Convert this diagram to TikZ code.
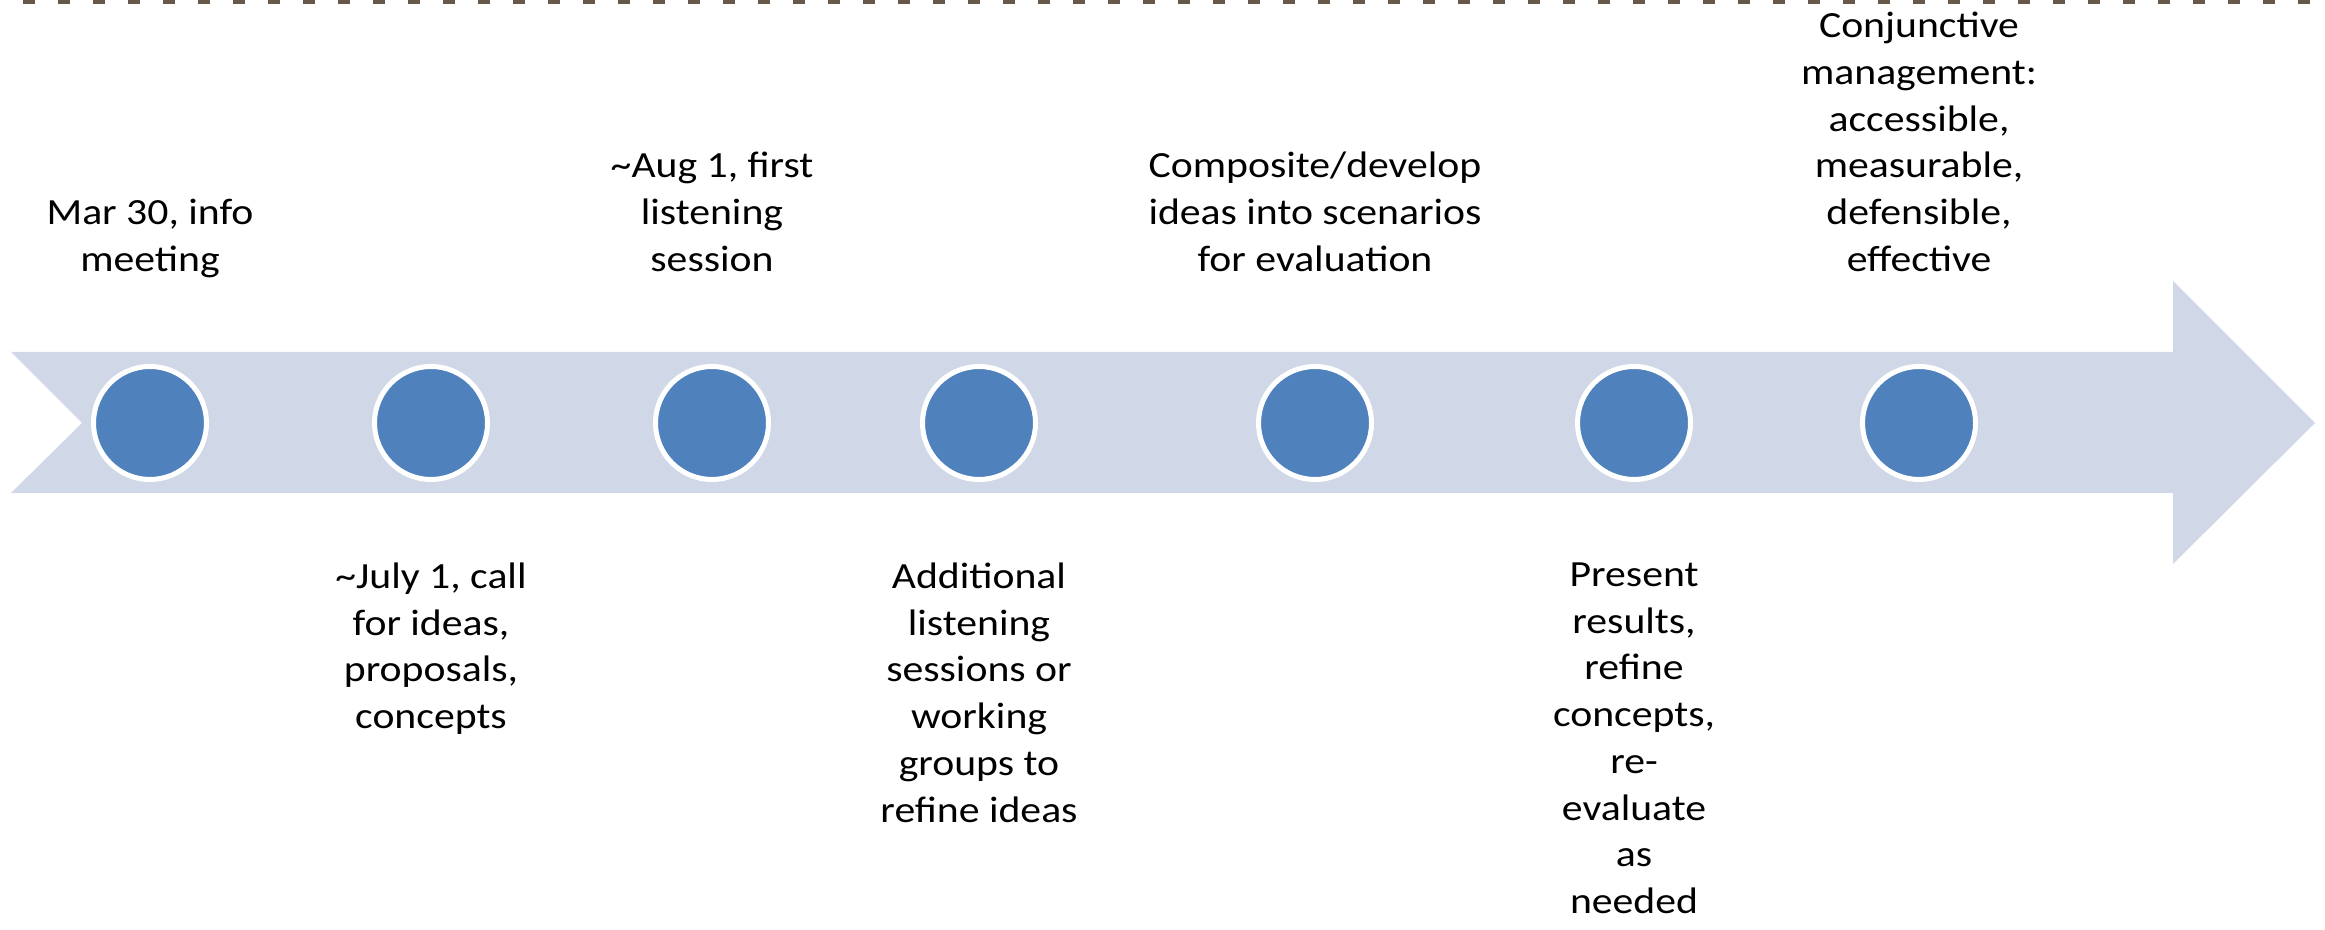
\documentclass[tikz,border=0pt]{standalone}
\usepackage{fontspec}
\setmainfont[FakeStretch=1.13]{Carlito}

\definecolor{bandblue}{RGB}{208,216,232}
\definecolor{dotblue}{RGB}{79,129,189}
\definecolor{rulebrown}{RGB}{103,88,73}

\tikzset{
	dot/.style={circle, fill=dotblue, draw=white, line width=0.5mm, minimum size=11.3mm, inner sep=0pt},
	uptext/.style={align=center, inner sep=0pt, anchor=south, font=\fontsize{10.5}{13.3}\selectfont, execute at end node=\strut},
	downtext/.style={align=center, inner sep=0pt, anchor=north, font=\fontsize{10.5}{13.3}\selectfont, execute at begin node=\strut}
}

\begin{document}
\begin{tikzpicture}[x=0.1mm, y=-0.1mm]

		\useasboundingbox (0,0) rectangle (2325,930);

		% dashed rule along the top edge
		\draw[rulebrown, line width=0.4mm, dash pattern=on 1.17mm off 2.33mm, dash phase=1.2mm] (0,2) -- (2325,2);

		% the band arrow
		\coordinate (tailTop) at (11,352);
		\coordinate (tailNotch) at (82,423);
		\coordinate (tailBot) at (11,493);
		\coordinate (tip) at (2315,423);

		\fill[bandblue] (tailTop) -- (2173,352) -- (2173,281) -- (tip) -- (2173,564) -- (2173,493) -- (tailBot) -- (tailNotch) -- cycle;

		% milestones
		\node[dot] (c1) at (150,423) {};
		\node[dot] (c2) at (431,423) {};
		\node[dot] (c3) at (712,423) {};
		\node[dot] (c4) at (979,423) {};
		\node[dot] (c5) at (1315,423) {};
		\node[dot] (c6) at (1634,423) {};
		\node[dot] (c7) at (1919,423) {};

		% texts above the band
		\node[uptext] (t1) at (150,286) {Mar 30, info\\meeting};
		\node[uptext] (t3) at (712,286) {\textasciitilde Aug 1, first\\listening\\session};
		\node[uptext] (t5) at (1315,286) {Composite/develop\\ideas into scenarios\\for evaluation};
		\node[uptext] (t7) at (1919,286) {Conjunctive\\management:\\accessible,\\measurable,\\defensible,\\effective};

		% texts below the band
		\node[downtext] (t2) at (431,562) {\textasciitilde July 1, call\\for ideas,\\proposals,\\concepts};
		\node[downtext] (t4) at (979,562) {Additional\\listening\\sessions or\\working\\groups to\\refine ideas};
		\node[downtext] (t6) at (1634,562) {Present\\results,\\refine\\concepts,\\re-\\evaluate\\as\\needed};

	\end{tikzpicture}
\end{document}
